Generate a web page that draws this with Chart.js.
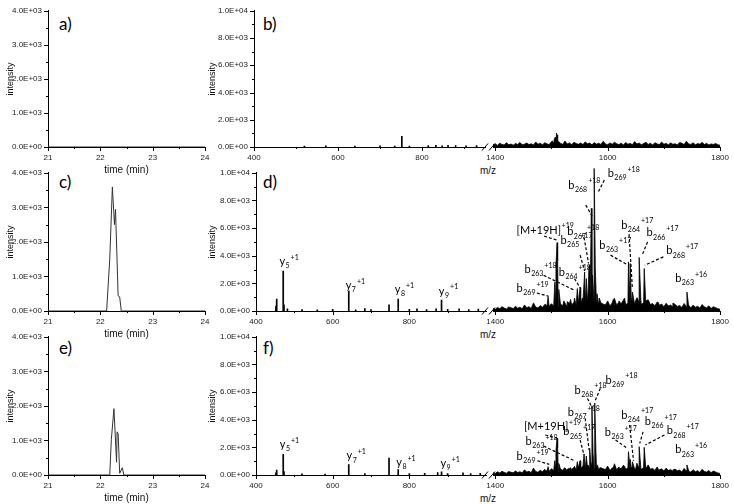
<!DOCTYPE html>
<html>
<head>
<meta charset="utf-8">
<title>Chromatograms and MS spectra</title>
<script src="https://cdn.jsdelivr.net/npm/chart.js@4.4.1/dist/chart.umd.min.js"></script>
<style>
  body { margin: 0; width: 734px; height: 504px; position: relative; overflow: hidden; background: #fff; }
  canvas { position: absolute; }
  .panel { position: absolute; font-family: Lato, "Open Sans", sans-serif; font-size: 17px; line-height: 16px; color: #000; }
  .mz { position: absolute; font-family: "Liberation Sans", Arial, sans-serif; font-size: 10px; color: #111; transform: translate(-50%, -50%); }
</style>
</head>
<body>
<div class="panel" style="left:59px;top:16px">a)</div>
<div class="panel" style="left:263px;top:16px">b)</div>
<div class="panel" style="left:59px;top:174px">c)</div>
<div class="panel" style="left:263px;top:174px">d)</div>
<div class="panel" style="left:59px;top:340px">e)</div>
<div class="panel" style="left:263px;top:340px">f)</div>
<div class="mz" style="left:488px;top:170px">m/z</div>
<div class="mz" style="left:488px;top:334px">m/z</div>
<div class="mz" style="left:488px;top:498px">m/z</div>
<script>
// ---- tick values / labels ----
const timeTicks = [21, 21.5, 22, 22.5, 23, 23.5, 24];
const timeTickLabels = ['21', '', '22', '', '23', '', '24'];
const timeIntTicks = [0, 500, 1000, 1500, 2000, 2500, 3000, 3500, 4000];
const timeIntLabels = ['0.0E+00', '', '1.0E+03', '', '2.0E+03', '', '3.0E+03', '', '4.0E+03'];
const msIntTicks = [0, 1000, 2000, 3000, 4000, 5000, 6000, 7000, 8000, 9000, 10000];
const msIntLabels = ['0.0E+00', '', '2.0E+03', '', '4.0E+03', '', '6.0E+03', '', '8.0E+03', '', '1.0E+04'];
const mzLowTicks = [400, 500, 600, 700, 800, 900];
const mzLowLabels = ['400', '', '600', '', '800', ''];
const mzHighTicks = [1400, 1500, 1600, 1700, 1800];
const mzHighLabels = ['1400', '', '1600', '', '1800'];

// ---- chromatograms ----
const timeA = [21, 24];
const intA = [0, 0];
const timeC = [21, 22.12, 22.18, 22.23, 22.27, 22.29, 22.34, 22.37, 22.40, 24];
const intC = [0, 0, 1500, 3590, 2500, 2940, 440, 410, 0, 0];
const timeE = [21, 22.18, 22.21, 22.26, 22.31, 22.32, 22.34, 22.37, 22.42, 22.45, 24];
const intE = [0, 0, 1020, 1920, 370, 1250, 1200, 50, 210, 0, 0];

// ---- spectra, low m/z part (sticks) ----
const bLowMz = [520, 571, 640, 700, 735, 752, 770, 815, 833, 848, 862, 880, 905, 930];
const bLowInt = [60, 90, 60, 80, 70, 780, 60, 100, 120, 90, 130, 100, 80, 110];
const dLowMz = [452, 454, 471, 473, 482, 520, 560, 600, 642, 660, 684, 700, 747, 771, 800, 820, 845, 870, 884, 900, 930, 955, 980];
const dLowInt = [350, 860, 2880, 450, 150, 100, 80, 120, 1440, 80, 180, 100, 450, 860, 120, 150, 100, 160, 790, 120, 150, 100, 130];
const fLowMz = [452, 454, 471, 473, 520, 580, 642, 684, 747, 771, 800, 840, 874, 884, 900, 940, 960, 985];
const fLowInt = [150, 350, 1500, 250, 80, 60, 760, 100, 1230, 390, 100, 120, 180, 230, 100, 150, 110, 120];

// ---- spectra, high m/z part (baseline every 4 m/z from 1396, plus peaks) ----
const noiseStart = 1396, noiseStep = 4;
const bNoise = [
  150,220,120,260,180,140,300,160,210,130,
  250,180,320,150,200,280,170,230,140,350,
  190,260,150,300,220,170,380,240,200,330,
  260,180,420,210,290,160,330,240,190,280,
  170,360,230,280,150,310,200,260,180,400,
  220,160,290,190,340,230,170,270,140,310,
  200,250,160,380,210,280,150,240,330,180,
  260,140,300,220,170,350,200,250,160,290,
  190,230,140,320,260,170,410,220,180,300,
  150,240,200,330,170,260,140,220,180,250,
  160,120];
const bHighMz = [1502, 1505, 1507, 1509, 1510, 1511, 1513];
const bHighInt = [420, 550, 700, 980, 850, 600, 380];

const dNoise = [
  180,120,250,160,300,200,140,280,220,170,
  330,190,260,150,420,230,300,180,560,270,
  210,380,250,450,320,280,500,350,420,300,
  480,360,560,300,520,420,610,380,540,460,
  650,400,580,520,700,450,620,380,560,480,
  420,700,350,560,880,400,620,500,760,450,
  540,380,690,460,920,520,420,600,380,780,
  450,520,360,620,400,480,300,540,350,420,
  280,460,320,380,240,520,300,360,220,410,
  260,330,200,450,280,220,360,180,300,230,
  160,120];
const dHighMz = [1490, 1494, 1497, 1506, 1508, 1510, 1511, 1513, 1522, 1528, 1534,
  1541, 1546, 1551, 1555, 1559, 1562, 1565, 1567, 1569, 1571, 1573, 1576, 1578, 1581, 1585,
  1610, 1620, 1630, 1637, 1640, 1642, 1644, 1650, 1653, 1656, 1659, 1665, 1668,
  1690, 1716, 1741, 1744];
const dHighInt = [450, 975, 380, 2000, 3200, 4750, 3500, 1500, 700, 650, 800,
  900, 1560, 1630, 900, 2710, 2250, 1200, 3180, 1500, 7130, 2500, 9900, 3000, 1200, 900,
  800, 700, 900, 3410, 3300, 900, 1320, 740, 900, 3720, 800, 2950, 700,
  600, 550, 1320, 400];

const fNoise = [
  150,110,220,140,260,180,130,240,190,150,
  280,170,230,140,360,200,260,160,480,240,
  190,330,220,400,280,250,440,310,370,260,
  420,320,500,270,460,380,540,340,480,410,
  580,360,520,460,620,400,560,340,500,430,
  380,620,310,500,780,360,560,450,680,400,
  480,340,610,410,820,460,380,540,340,700,
  400,460,320,560,360,430,270,480,310,380,
  250,410,290,340,210,460,270,320,200,370,
  230,300,180,400,250,200,320,160,270,210,
  140,110];
const fHighMz = [1490, 1494, 1497, 1506, 1508, 1510, 1511, 1513, 1522, 1528, 1534,
  1541, 1546, 1551, 1555, 1558, 1562, 1565, 1568, 1570, 1572, 1574, 1577, 1579, 1582, 1586,
  1610, 1620, 1630, 1637, 1640, 1642, 1644, 1650, 1656, 1659, 1665, 1668,
  1690, 1716, 1741, 1744];
const fHighInt = [300, 580, 300, 1000, 1700, 2550, 1900, 800, 450, 400, 500,
  600, 925, 1000, 600, 1460, 1320, 700, 1850, 900, 4800, 1500, 5000, 1800, 700, 500,
  500, 450, 600, 1620, 1100, 500, 925, 450, 1970, 500, 1920, 450,
  400, 350, 700, 250];

// ---- peak labels (text anchor and leader line in data units) ----
const dLowNotes = [
  { base: 'y', sub: '5', sup: '+1', at: [461, 3580] },
  { base: 'y', sub: '7', sup: '+1', at: [634, 1860] },
  { base: 'y', sub: '8', sup: '+1', at: [762, 1560] },
  { base: 'y', sub: '9', sup: '+1', at: [877, 1440] }
];
const fLowNotes = [
  { base: 'y', sub: '5', sup: '+1', at: [462, 2200] },
  { base: 'y', sub: '7', sup: '+1', at: [636, 1390] },
  { base: 'y', sub: '8', sup: '+1', at: [766, 920] },
  { base: 'y', sub: '9', sup: '+1', at: [881, 850] }
];
const dHighNotes = [
  { base: 'b', sub: '269', sup: '+18', at: [1600, 9560], line: [1594, 9100, 1583, 8240] },
  { base: 'b', sub: '268', sup: '+18', at: [1530, 8750], line: [1561, 7360, 1573, 6540] },
  { base: '[M+19H]', sub: '', sup: '+19', at: [1438, 5620], line: [1487, 5200, 1510, 4920] },
  { base: 'b', sub: '267', sup: '+18', at: [1528, 5500], line: [1558, 5110, 1566, 3300] },
  { base: 'b', sub: '265', sup: '+17', at: [1516, 4920], line: [1551, 3880, 1559, 2780] },
  { base: 'b', sub: '264', sup: '+18', at: [1513, 2710], line: [1541, 2250, 1551, 1600] },
  { base: 'b', sub: '263', sup: '+18', at: [1452, 2880], line: [1486, 2480, 1541, 1440] },
  { base: 'b', sub: '269', sup: '+19', at: [1438, 1560], line: [1474, 1250, 1495, 1020] },
  { base: 'b', sub: '264', sup: '+17', at: [1624, 5960], line: [1638, 5340, 1644, 1560] },
  { base: 'b', sub: '266', sup: '+17', at: [1669, 5430], line: [1671, 4800, 1662, 3950] },
  { base: 'b', sub: '263', sup: '+17', at: [1585, 4570], line: [1605, 3880, 1634, 3230] },
  { base: 'b', sub: '268', sup: '+17', at: [1704, 4180], line: [1699, 3760, 1666, 3180] },
  { base: 'b', sub: '263', sup: '+16', at: [1720, 2250] }
];
const fHighNotes = [
  { base: 'b', sub: '269', sup: '+18', at: [1596, 6590], line: [1587, 6020, 1577, 5090] },
  { base: 'b', sub: '268', sup: '+18', at: [1541, 5900], line: [1564, 5320, 1573, 4610] },
  { base: '[M+19H]', sub: '', sup: '+19', at: [1451, 3350], line: [1489, 2780, 1510, 2550] },
  { base: 'b', sub: '267', sup: '+18', at: [1529, 4330], line: [1560, 3940, 1567, 1740] },
  { base: 'b', sub: '265', sup: '+17', at: [1521, 3000], line: [1551, 2430, 1558, 1390] },
  { base: 'b', sub: '263', sup: '+18', at: [1454, 2310], line: [1486, 2010, 1541, 990] },
  { base: 'b', sub: '269', sup: '+19', at: [1438, 1270], line: [1475, 990, 1496, 740] },
  { base: 'b', sub: '264', sup: '+17', at: [1624, 4160], line: [1639, 3470, 1646, 990] },
  { base: 'b', sub: '266', sup: '+17', at: [1666, 3700], line: [1663, 3000, 1657, 2200] },
  { base: 'b', sub: '263', sup: '+17', at: [1595, 2940], line: [1614, 2430, 1635, 1850] },
  { base: 'b', sub: '268', sup: '+17', at: [1705, 3070], line: [1701, 2780, 1667, 2080] },
  { base: 'b', sub: '263', sup: '+16', at: [1720, 1740] }
];

Chart.defaults.font.family = 'Liberation Sans';
Chart.defaults.color = '#222';

// short tick marks, longer where a label sits
const tickMarks = {
  id: 'tickMarks',
  afterDraw(chart) {
    const ctx = chart.ctx;
    ctx.save();
    ctx.strokeStyle = '#000';
    ctx.lineWidth = 1;
    Object.values(chart.scales).forEach(s => {
      if (!s.options.display) return;
      s.ticks.forEach(t => {
        const len = t.label ? 4 : 2;
        const p = Math.round(s.getPixelForValue(t.value)) + 0.5;
        ctx.beginPath();
        if (s.isHorizontal()) { ctx.moveTo(p, s.top); ctx.lineTo(p, s.top + len); }
        else { ctx.moveTo(s.right - len, p); ctx.lineTo(s.right, p); }
        ctx.stroke();
      });
    });
    ctx.restore();
  }
};

// the "//" on the m/z axis
const axisBreak = {
  id: 'axisBreak',
  afterDraw(chart) {
    const a = chart.chartArea, ctx = chart.ctx, y = a.bottom;
    ctx.save();
    ctx.strokeStyle = '#000';
    ctx.lineWidth = 1;
    [a.left - 8, a.left - 1].forEach(cx => {
      ctx.beginPath();
      ctx.moveTo(cx - 3, y + 3.5);
      ctx.lineTo(cx + 3, y - 3.5);
      ctx.stroke();
    });
    ctx.restore();
  }
};

// ion labels with subscript / superscript and dashed leader
const ionNotes = {
  id: 'ionNotes',
  afterDatasetsDraw(chart, args, opts) {
    const ctx = chart.ctx, xs = chart.scales.x, ys = chart.scales.y;
    ctx.save();
    ctx.fillStyle = '#000';
    ctx.strokeStyle = '#000';
    (opts.items || []).forEach(it => {
      if (it.line) {
        ctx.setLineDash([3, 2]);
        ctx.lineWidth = 1.2;
        ctx.beginPath();
        ctx.moveTo(xs.getPixelForValue(it.line[0]), ys.getPixelForValue(it.line[1]));
        ctx.lineTo(xs.getPixelForValue(it.line[2]), ys.getPixelForValue(it.line[3]));
        ctx.stroke();
        ctx.setLineDash([]);
      }
      let x = xs.getPixelForValue(it.at[0]);
      const y = ys.getPixelForValue(it.at[1]);
      ctx.textAlign = 'left';
      ctx.textBaseline = 'middle';
      ctx.font = '11px Lato';
      ctx.fillText(it.base, x, y);
      x += ctx.measureText(it.base).width + 0.5;
      ctx.font = '7px Lato';
      if (it.sub) {
        ctx.fillText(it.sub, x, y + 4.5);
        x += ctx.measureText(it.sub).width + 1;
      }
      ctx.fillText(it.sup, x, y - 4);
    });
    ctx.restore();
  }
};

function addCanvas(left, top, w, h) {
  const c = document.createElement('canvas');
  c.width = w; c.height = h;
  c.style.left = left + 'px'; c.style.top = top + 'px';
  c.style.width = w + 'px'; c.style.height = h + 'px';
  document.body.appendChild(c);
  return c;
}

function xAxis(min, max, vals, labels, title) {
  return {
    type: 'linear', min: min, max: max, offset: false,
    grid: { display: false, drawTicks: false },
    border: { display: true, color: '#000', width: 1 },
    afterBuildTicks: s => { s.ticks = vals.map(v => ({ value: v })); },
    ticks: { autoSkip: false, maxRotation: 0, padding: 6, font: { size: 8 }, color: '#222',
      callback: (v, i) => labels[i] },
    title: { display: !!title, text: title || '', font: { size: 10 }, color: '#111', padding: 0 },
    afterFit: s => { s.height = 29; }
  };
}

function yAxis(max, vals, labels, width, titlePad) {
  return {
    type: 'linear', min: 0, max: max, position: 'left',
    grid: { display: false, drawTicks: false },
    border: { display: true, color: '#000', width: 1 },
    afterBuildTicks: s => { s.ticks = vals.map(v => ({ value: v })); },
    ticks: { autoSkip: false, padding: 6, font: { size: 8 }, color: '#222',
      callback: (v, i) => labels[i] },
    title: { display: true, text: 'intensity', font: { size: 9 }, color: '#111',
      padding: { top: titlePad, bottom: 0 } },
    afterFit: s => { s.width = width; }
  };
}

const basePlugins = { legend: { display: false }, tooltip: { enabled: false } };

function chromatogram(row, times, values) {
  const c = addCanvas(0, row.top - 5, 222, row.bottom - row.top + 34);
  new Chart(c, {
    type: 'line',
    data: { datasets: [{ data: times.map((t, i) => ({ x: t, y: values[i] })),
      borderColor: '#333', borderWidth: 1, pointRadius: 0, tension: 0 }] },
    options: {
      responsive: false, animation: false, devicePixelRatio: 1,
      layout: { padding: { top: 5, left: 0, right: 17, bottom: 0 } },
      scales: { x: xAxis(21, 24, timeTicks, timeTickLabels, 'time (min)'),
        y: yAxis(4000, timeIntTicks, timeIntLabels, 48, 5) },
      plugins: basePlugins
    },
    plugins: [tickMarks]
  });
}

function lowSpectrum(row, axisLeft, axisRight, maxMz, mz, values, notes) {
  const c = addCanvas(200, row.top - 5, axisRight - 200 + 4, row.bottom - row.top + 34);
  new Chart(c, {
    type: 'bar',
    data: { datasets: [{ data: mz.map((m, i) => ({ x: m, y: values[i] })),
      backgroundColor: '#000', barThickness: 1 }] },
    options: {
      responsive: false, animation: false, devicePixelRatio: 1,
      layout: { padding: { top: 5, left: 0, right: 4, bottom: 0 } },
      scales: { x: xAxis(400, maxMz, mzLowTicks, mzLowLabels, ''),
        y: yAxis(10000, msIntTicks, msIntLabels, axisLeft - 200, 7.6) },
      plugins: Object.assign({ ionNotes: { items: notes } }, basePlugins)
    },
    plugins: [tickMarks, ionNotes]
  });
}

function highSpectrum(row, noise, mz, values, notes) {
  const pts = noise.map((v, i) => ({ x: noiseStart + i * noiseStep, y: v }));
  mz.forEach((m, i) => pts.push({ x: m, y: values[i] }));
  pts.sort((p, q) => p.x - q.x);
  const c = addCanvas(476, row.top - 5, 259, row.bottom - row.top + 34);
  const yHidden = yAxis(10000, msIntTicks, msIntLabels, 0, 0);
  yHidden.display = false;
  new Chart(c, {
    type: 'line',
    data: { datasets: [{ data: pts, borderColor: '#000', backgroundColor: '#000',
      borderWidth: 0.8, fill: 'origin', pointRadius: 0, tension: 0 }] },
    options: {
      responsive: false, animation: false, devicePixelRatio: 1,
      layout: { padding: { top: 5, left: 17, right: 10, bottom: 0 } },
      scales: { x: xAxis(1396, 1800, mzHighTicks, mzHighLabels, ''), y: yHidden },
      plugins: Object.assign({ ionNotes: { items: notes } }, basePlugins)
    },
    plugins: [tickMarks, axisBreak, ionNotes]
  });
}

const rows = [{ top: 5, bottom: 147 }, { top: 167, bottom: 311 }, { top: 331, bottom: 475 }];

chromatogram(rows[0], timeA, intA);
chromatogram(rows[1], timeC, intC);
chromatogram(rows[2], timeE, intE);

lowSpectrum(rows[0], 254, 485, 950, bLowMz, bLowInt, []);
lowSpectrum(rows[1], 256, 486, 1000, dLowMz, dLowInt, dLowNotes);
lowSpectrum(rows[2], 256, 486, 1000, fLowMz, fLowInt, fLowNotes);

highSpectrum(rows[0], bNoise, bHighMz, bHighInt, []);
highSpectrum(rows[1], dNoise, dHighMz, dHighInt, dHighNotes);
highSpectrum(rows[2], fNoise, fHighMz, fHighInt, fHighNotes);
</script>
</body>
</html>
